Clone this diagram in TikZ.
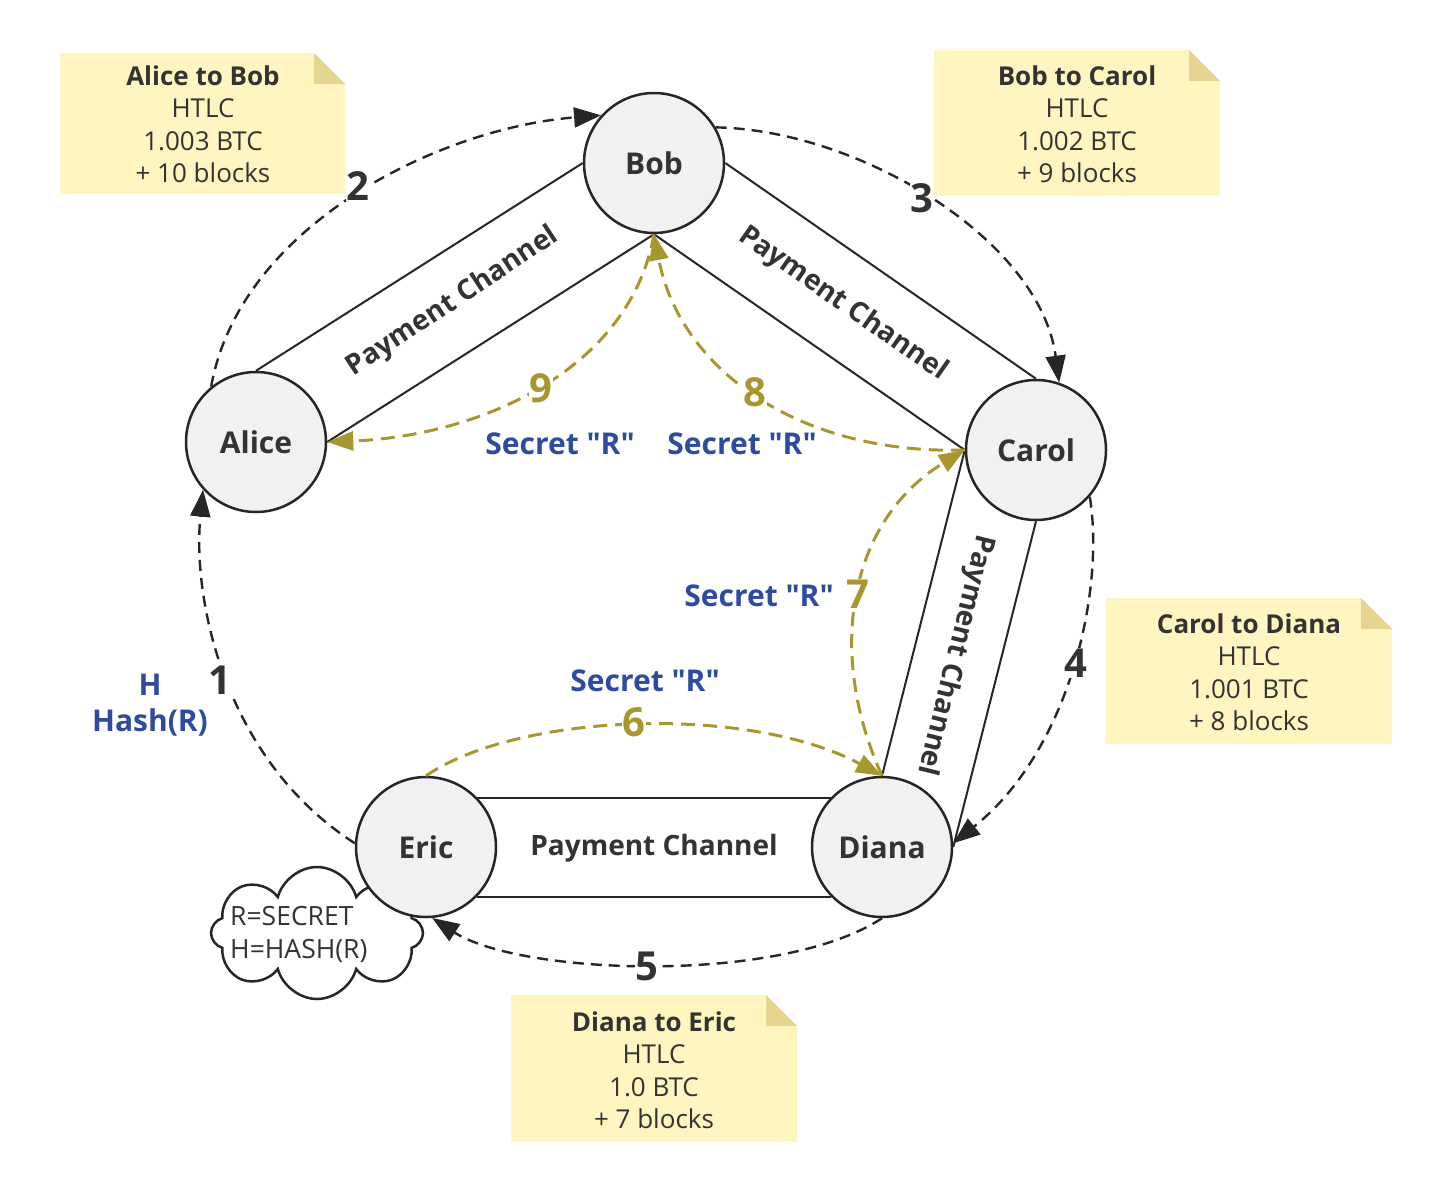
\documentclass[tikz,border=0pt]{standalone}
\usepackage{fontspec}
\setmainfont{Open Sans}[Ligatures=TeXOff]
\usetikzlibrary{arrows.meta,shapes.symbols}
\definecolor{darkline}{HTML}{262626}
\definecolor{textdark}{HTML}{333333}
\definecolor{goldc}{HTML}{A8962E}
\definecolor{bluec}{HTML}{2E4B9F}
\definecolor{notefill}{HTML}{FFF5C0}
\definecolor{foldfill}{HTML}{E6D490}
\definecolor{nodefill}{HTML}{F1F1F1}
\newcommand\notebg[4]{%
  \fill[notefill] (#1,-#2) -- (#3-31,-#2) -- (#3,-#2-31) -- (#3,-#4) -- (#1,-#4) -- cycle;
  \fill[foldfill] (#3-31,-#2) -- (#3-31,-#2-31) -- (#3,-#2-31) -- cycle;}
\begin{document}
\begin{tikzpicture}[x=1pt,y=1pt,
  person/.style={circle,draw=darkline,line width=2.5pt,fill=nodefill,minimum size=140pt,inner sep=0pt,
    text=textdark,font=\fontsize{30}{36}\selectfont\bfseries},
  notetext/.style={align=center,text=textdark,font=\fontsize{26}{32.5}\selectfont},
  chan/.style={draw=darkline,line width=2pt},
  chanlabel/.style={text=textdark,font=\fontsize{28}{32}\selectfont\bfseries,inner sep=0pt},
  hop/.style={draw=darkline,line width=2.4pt,dash pattern=on 11pt off 7pt,-{Triangle[length=27pt,width=20pt]}},
  secret/.style={draw=goldc,line width=3pt,dash pattern=on 14pt off 8pt,-{Triangle[length=26pt,width=19pt]}},
  hopnum/.style={fill=white,inner sep=1pt,text=textdark,font=\fontsize{40}{48}\selectfont\bfseries},
  goldnum/.style={fill=white,inner sep=1pt,text=goldc,font=\fontsize{40}{48}\selectfont\bfseries},
  bluelabel/.style={text=bluec,font=\fontsize{30}{36}\selectfont\bfseries,align=center,inner sep=0pt},
  cloudtxt/.style={text=textdark,font=\fontsize{26.5}{33}\selectfont,align=left,inner sep=0pt}
]
\useasboundingbox (0,0) rectangle (1442,-1192);

% notes
\notebg{60}{53}{345}{194}
\node[notetext] (nAB) at (203,-124) {\textbf{Alice to Bob}\\HTLC\\1.003 BTC\\+ 10 blocks};
\notebg{934}{50}{1220}{196}
\node[notetext] (nBC) at (1077,-124) {\textbf{Bob to Carol}\\HTLC\\1.002 BTC\\+ 9 blocks};
\notebg{1106}{598}{1392}{744}
\node[notetext] (nCD) at (1249,-672) {\textbf{Carol to Diana}\\HTLC\\1.001 BTC\\+ 8 blocks};
\notebg{511}{995}{797}{1142}
\node[notetext] (nDE) at (654,-1070) {\textbf{Diana to Eric}\\HTLC\\1.0 BTC\\+ 7 blocks};

% cloud
\node[cloud,cloud puffs=8,aspect=1.5,draw=darkline,line width=2.5pt,fill=white,
  minimum width=212pt,minimum height=132pt,inner sep=0pt] (cloudshape) at (317,-933) {};
\node[cloudtxt,anchor=west] (cloudtext) at (230,-934) {R=SECRET\\H=HASH(R)};

% people
\node[person] (Bob) at (654,-163) {Bob};
\node[person] (Alice) at (256,-442) {Alice};
\node[person] (Carol) at (1036,-450) {Carol};
\node[person] (Diana) at (882,-847) {Diana};
\node[person] (Eric) at (426,-847) {Eric};

% payment channels
\draw[chan] (Alice.north) -- (Bob.west);
\draw[chan] (Alice.east) -- (Bob.south);
\draw[chan] (Bob.east) -- (Carol.north);
\draw[chan] (Bob.south) -- (Carol.west);
\draw[chan] (Carol.west) -- (Diana.north);
\draw[chan] (Carol.south) -- (Diana.east);
\draw[chan] (Eric.44) -- (Diana.136);
\draw[chan] (Eric.-44) -- (Diana.-136);

\node[chanlabel,rotate=33.5] (lAB) at (453,-302) {Payment Channel};
\node[chanlabel,rotate=-35] (lBC) at (843,-304) {Payment Channel};
\node[chanlabel,rotate=-104] (lCD) at (955,-655) {Payment Channel};
\node[chanlabel] (lED) at (654,-848) {Payment Channel};

% HTLC hops
\draw[hop] (Eric.177) .. controls (225,-760) and (192,-600) .. (Alice.-138);
\draw[hop] (Alice.129) .. controls (240,-225) and (440,-128) .. (Bob.138);
\draw[hop] (Bob.30) .. controls (860,-130) and (1040,-240) .. (Carol.71);
\draw[hop] (Carol.-41) .. controls (1105,-590) and (1070,-750) .. (Diana.3);
\draw[hop] (Diana.south) .. controls (780,-985) and (520,-975) .. (Eric.-85);

% secret propagation
\draw[secret] (Eric.north) .. controls (520,-712) and (750,-705) .. (Diana.north);
\draw[secret] (Diana.north) .. controls (825,-650) and (850,-520) .. (Carol.west);
\draw[secret] (Carol.west) .. controls (800,-455) and (680,-370) .. (Bob.south);
\draw[secret] (Bob.south) .. controls (630,-370) and (480,-436) .. (Alice.east);

% numbers
\node[hopnum] (h1) at (220,-680) {1};
\node[hopnum] (h2) at (358,-186) {2};
\node[hopnum] (h3) at (922,-198) {3};
\node[hopnum] (h4) at (1076,-663) {4};
\node[hopnum] (h5) at (647,-966) {5};
\node[goldnum] (g6) at (634,-722) {6};
\node[goldnum] (g7) at (858,-594) {7};
\node[goldnum] (g8) at (755,-392) {8};
\node[goldnum] (g9) at (541,-388) {9};

% blue labels
\node[bluelabel] (s9) at (560,-444) {Secret "R"};
\node[bluelabel] (s8) at (742,-444) {Secret "R"};
\node[bluelabel] (s7) at (759,-596) {Secret "R"};
\node[bluelabel] (s6) at (645,-681) {Secret "R"};
\node[bluelabel] (hh) at (150,-705) {H\\Hash(R)};
\end{tikzpicture}
\end{document}
